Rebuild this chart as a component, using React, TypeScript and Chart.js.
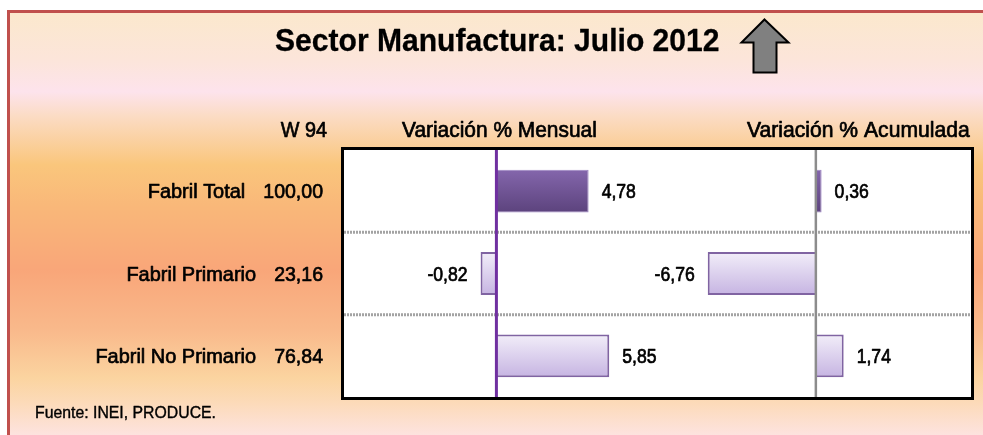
import React, { useEffect, useRef } from "react";
import { Chart, registerables } from "chart.js";

Chart.register(...registerables);

// ---- data ----
const titleText = "Sector Manufactura: Julio 2012";
const weightHeader = "W 94";
const monthlyHeader = "Variación % Mensual";
const cumulativeHeader = "Variación % Acumulada";
const sourceText = "Fuente: INEI, PRODUCE.";
const categories = ["Fabril Total", "Fabril Primario", "Fabril No Primario"];
const weights = [100.0, 23.16, 76.84];
const monthlyVar = [4.78, -0.82, 5.85];
const cumulativeVar = [0.36, -6.76, 1.74];

const FAM = "'Liberation Sans', Arial, sans-serif";
const fmt = (v: number) => v.toFixed(2).replace(".", ",");

function txt(
  ctx: CanvasRenderingContext2D,
  s: string,
  x: number,
  y: number,
  size: number,
  align: CanvasTextAlign = "left",
  weight = "normal",
  sx = 1,
  embolden = 0,
  color = "#000"
) {
  ctx.save();
  ctx.font = `${weight} ${size}px ${FAM}`;
  ctx.fillStyle = color;
  ctx.strokeStyle = color;
  ctx.textBaseline = "alphabetic";
  ctx.textAlign = align;
  ctx.translate(x, y);
  ctx.scale(sx, 1);
  ctx.fillText(s, 0, 0);
  if (embolden > 0) {
    ctx.lineWidth = embolden;
    ctx.lineJoin = "round";
    ctx.strokeText(s, 0, 0);
  }
  ctx.restore();
}

function barGradient(c: any) {
  const chart = c.chart;
  const y = chart.scales?.y;
  const dark = c.dataIndex === 0;
  if (!chart.chartArea || !y) return dark ? "#70539A" : "#DDD3EF";
  const center = y.getPixelForValue(c.dataIndex);
  const half = Math.abs(y.getPixelForValue(1) - y.getPixelForValue(0)) * 0.26;
  const g = chart.ctx.createLinearGradient(0, center - half, 0, center + half);
  if (dark) {
    g.addColorStop(0, "#8466AC");
    g.addColorStop(1, "#5C437D");
  } else {
    g.addColorStop(0, "#F2EEF9");
    g.addColorStop(1, "#C6B4E2");
  }
  return g;
}

const decorPlugin = {
  id: "decor",
  beforeDraw(chart: any) {
    const ctx: CanvasRenderingContext2D = chart.ctx;
    const W = chart.width;
    const H = chart.height;
    const ca = chart.chartArea;
    ctx.save();
    ctx.fillStyle = "#ffffff";
    ctx.fillRect(0, 0, W, H);
    // background gradient
    const g = ctx.createLinearGradient(0, 13, 0, H);
    const stops: [number, string][] = [
      [13, "#FBE8CD"],
      [60, "#FCE5DA"],
      [92, "#FDE3EC"],
      [115, "#FBDCC6"],
      [165, "#FAC67C"],
      [205, "#F9B879"],
      [270, "#F9A679"],
      [330, "#F9B98B"],
      [378, "#FBD4A0"],
      [402, "#FCDAB8"],
      [435, "#FDE3DF"],
    ];
    stops.forEach(([p, col]) => g.addColorStop((p - 13) / (H - 13), col));
    ctx.fillStyle = g;
    ctx.fillRect(10, 13, W - 10, H - 13);
    // red frame
    ctx.fillStyle = "#C0504D";
    ctx.fillRect(7, 10, W - 7, 3);
    ctx.fillRect(7, 10, 3, H - 10);
    // plot box fill
    ctx.fillStyle = "#ffffff";
    ctx.fillRect(ca.left, ca.top, ca.right - ca.left, ca.bottom - ca.top);

    // title
    txt(ctx, titleText, 275, 51, 31, "left", "bold", 0.97, 0.3);
    // arrow
    ctx.beginPath();
    ctx.moveTo(764.5, 19.5);
    ctx.lineTo(788.5, 42.5);
    ctx.lineTo(776.5, 42.5);
    ctx.lineTo(776.5, 72.5);
    ctx.lineTo(753.5, 72.5);
    ctx.lineTo(753.5, 42.5);
    ctx.lineTo(741.5, 42.5);
    ctx.closePath();
    ctx.fillStyle = "#808080";
    ctx.fill();
    ctx.lineWidth = 2;
    ctx.strokeStyle = "#000";
    ctx.lineJoin = "miter";
    ctx.stroke();

    // headers
    txt(ctx, weightHeader, 327, 137, 22, "right", "normal", 0.9, 0.7);
    txt(ctx, monthlyHeader, 402, 137, 22, "left", "normal", 0.95, 0.7);
    txt(ctx, cumulativeHeader, 747, 137, 22, "left", "normal", 0.96, 0.7);

    // row labels
    const y = chart.scales.y;
    categories.forEach((cat, i) => {
      const cy = y.getPixelForValue(i) + 7;
      const w = fmt(weights[i]);
      ctx.font = `normal 21px ${FAM}`;
      const ww = ctx.measureText(w).width * 0.93;
      txt(ctx, w, 323, cy, 21, "right", "normal", 0.93, 0.7);
      txt(ctx, cat, 323 - ww - 18, cy, 21, "right", "normal", 0.95, 0.7);
    });

    // source
    txt(ctx, sourceText, 35, 418, 17, "left", "normal", 0.93, 0.4);
    ctx.restore();
  },
  beforeDatasetsDraw(chart: any) {
    const ctx: CanvasRenderingContext2D = chart.ctx;
    const ca = chart.chartArea;
    const y = chart.scales.y;
    ctx.save();
    ctx.strokeStyle = "#A3A3A3";
    ctx.lineWidth = 3;
    ctx.setLineDash([2, 1]);
    for (let i = 0; i < categories.length - 1; i++) {
      const py = (y.getPixelForValue(i) + y.getPixelForValue(i + 1)) / 2;
      ctx.beginPath();
      ctx.moveTo(ca.left, py);
      ctx.lineTo(ca.right, py);
      ctx.stroke();
    }
    ctx.restore();
  },
  afterDatasetsDraw(chart: any) {
    const ctx: CanvasRenderingContext2D = chart.ctx;
    const ca = chart.chartArea;
    ctx.save();
    // zero lines
    const x0 = chart.scales.x.getPixelForValue(0);
    const x20 = chart.scales.x2.getPixelForValue(0);
    ctx.lineWidth = 3;
    ctx.strokeStyle = "#7030A0";
    ctx.beginPath();
    ctx.moveTo(x0, ca.top);
    ctx.lineTo(x0, ca.bottom);
    ctx.stroke();
    ctx.lineWidth = 2.5;
    ctx.strokeStyle = "#8C8C8C";
    ctx.beginPath();
    ctx.moveTo(x20, ca.top);
    ctx.lineTo(x20, ca.bottom);
    ctx.stroke();
    // box
    ctx.lineWidth = 3;
    ctx.strokeStyle = "#000";
    ctx.strokeRect(ca.left - 1.5, ca.top - 1.5, ca.right - ca.left + 3, ca.bottom - ca.top + 3);

    // data labels
    chart.data.datasets.forEach((ds: any, di: number) => {
      const meta = chart.getDatasetMeta(di);
      meta.data.forEach((el: any, i: number) => {
        const v = ds.data[i];
        const s = fmt(v);
        const yy = el.y + 7;
        if (v >= 0) {
          txt(ctx, s, Math.max(el.x, el.base) + 13, yy, 20, "left", "normal", 0.88, 0.7);
        } else {
          txt(ctx, s, Math.min(el.x, el.base) - 13, yy, 20, "right", "normal", 0.88, 0.7);
        }
      });
    });
    ctx.restore();
  },
};

export default function App() {
  const ref = useRef<HTMLCanvasElement>(null);
  useEffect(() => {
    if (!ref.current) return;
    const common = {
      backgroundColor: barGradient,
      borderColor: (c: any) => (c.dataIndex === 0 ? "#9C84C2" : "#8064A2"),
      borderWidth: (c: any) => (c.dataIndex === 0 ? 1 : 2),
      grouped: false,
      categoryPercentage: 1,
      barPercentage: 0.52,
    };
    const chart = new Chart(ref.current, {
      type: "bar",
      data: {
        labels: categories,
        datasets: [
          { label: monthlyHeader, data: monthlyVar, xAxisID: "x", ...common } as any,
          { label: cumulativeHeader, data: cumulativeVar, xAxisID: "x2", ...common } as any,
        ],
      },
      options: {
        indexAxis: "y",
        responsive: false,
        animation: false,
        devicePixelRatio: 1,
        layout: { padding: { left: 344, right: 12, top: 150, bottom: 38 } },
        plugins: { legend: { display: false }, tooltip: { enabled: false } },
        scales: {
          x: { type: "linear", display: false, min: -7.9, max: 24.6 },
          x2: { type: "linear", display: false, min: -29.5, max: 9.7 },
          y: { type: "category", display: false },
        },
      } as any,
      plugins: [decorPlugin],
    });
    return () => chart.destroy();
  }, []);
  return (
    <div style={{ position: "absolute", left: 0, top: 0, width: 983, height: 435 }}>
      <canvas ref={ref} width={983} height={435} style={{ display: "block", width: 983, height: 435 }} />
    </div>
  );
}
